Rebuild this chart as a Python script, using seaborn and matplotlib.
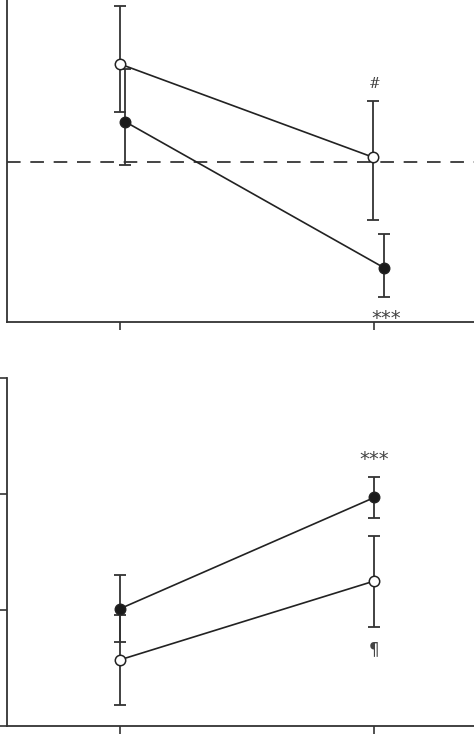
import matplotlib
matplotlib.use("Agg")
import matplotlib.pyplot as plt
import seaborn as sns
import pandas as pd

sns.set_theme(style="ticks")
plt.rcParams['font.family'] = ['DejaVu Serif', 'DejaVu Sans']

# ---- data ----
timepoints = ["Pre", "Post"]
time_pos = [0, 1]

# top panel (relative units, dashed reference = 100)
top_open_mean = [161.3, 102.9]
top_open_low = [131.4, 63.9]
top_open_high = [197.3, 138.3]
top_filled_mean = [125.2, 33.9]
top_filled_low = [98.1, 15.4]
top_filled_high = [158.1, 54.8]
top_reference = 100.0

# bottom panel
bot_open_mean = [0.57, 1.25]
bot_open_low = [0.18, 0.85]
bot_open_high = [0.96, 1.64]
bot_filled_mean = [1.01, 1.97]
bot_filled_low = [0.72, 1.79]
bot_filled_high = [1.30, 2.15]

# horizontal dodge of series (x units)
top_open_dodge = [0.0, -0.004]
top_filled_dodge = [0.021, 0.038]
bot_open_dodge = [0.0, 0.0]
bot_filled_dodge = [0.0, 0.0]

# annotations: text, x, y, size, vertical anchor
top_notes = [("#", 1.0, 149.0, 10, "center"), ("***", 1.045, -1.0, 14, "baseline")]
bot_notes = [("***", 1.0, 2.25, 14, "baseline"), ("¶", 1.0, 0.66, 12, "center")]

fig = plt.figure(figsize=(4.74, 7.34), dpi=100)
ax_top = fig.add_axes([7 / 474, 412 / 734, 1 - 7 / 474 + 0.01, 322 / 734])
ax_bot = fig.add_axes([7 / 474, 8 / 734, 1 - 7 / 474 + 0.01, 348 / 734])

line_c = "#222222"
err_c = "#333333"
faces = {"Open": "white", "Filled": "#1a1a1a"}


def draw(ax, series):
    for name, dodge, m, lo, hi in series:
        xs = [p + d for p, d in zip(time_pos, dodge)]
        df = pd.DataFrame({"x": xs, "y": m})
        ax.errorbar(xs, m, yerr=[[a - b for a, b in zip(m, lo)], [b - a for a, b in zip(m, hi)]],
                    fmt="none", ecolor=err_c, elinewidth=1.3, capsize=4, capthick=1.3, zorder=2)
        sns.lineplot(data=df, x="x", y="y", color=line_c, marker="o",
                     markersize=7.5, markerfacecolor=faces[name],
                     markeredgecolor=line_c, markeredgewidth=1.1,
                     linewidth=1.2, ax=ax, zorder=3, estimator=None, sort=False)


draw(ax_top, [("Open", top_open_dodge, top_open_mean, top_open_low, top_open_high),
              ("Filled", top_filled_dodge, top_filled_mean, top_filled_low, top_filled_high)])
ax_top.axhline(top_reference, color="#444444", linewidth=1.4, dashes=(7, 5), zorder=1)
draw(ax_bot, [("Open", bot_open_dodge, bot_open_mean, bot_open_low, bot_open_high),
              ("Filled", bot_filled_dodge, bot_filled_mean, bot_filled_low, bot_filled_high)])

for ax in (ax_top, ax_bot):
    ax.set_xlim(-0.443, 1.410)
    ax.set_xticks(time_pos)
    ax.set_xticklabels(["", ""])
    ax.set_xlabel("")
    ax.set_ylabel("")
    for s in ("top", "right"):
        ax.spines[s].set_visible(False)
    for s in ("left", "bottom"):
        ax.spines[s].set_color("#333333")
        ax.spines[s].set_linewidth(1.3)
    ax.tick_params(axis="x", direction="out", length=6, width=1.2, color="#333333")
    ax.tick_params(axis="y", direction="out", length=5, width=1.2, color="#333333")
    ax.set_facecolor("white")

ax_top.set_ylim(0, 201.25)
ax_top.set_yticks([])
ax_bot.set_ylim(0, 3.0)
ax_bot.set_yticks([0, 1, 2, 3])
ax_bot.set_yticklabels([""] * 4)

for ax, notes in ((ax_top, top_notes), (ax_bot, bot_notes)):
    for txt, x, y, size, va in notes:
        ax.text(x, y, txt, ha="center", va=va, fontsize=size, color="#444444",
                family=["DejaVu Sans"] if txt != "#" else ["DejaVu Serif"],
                clip_on=False)

fig.savefig("out.png", dpi=100, facecolor="white")
